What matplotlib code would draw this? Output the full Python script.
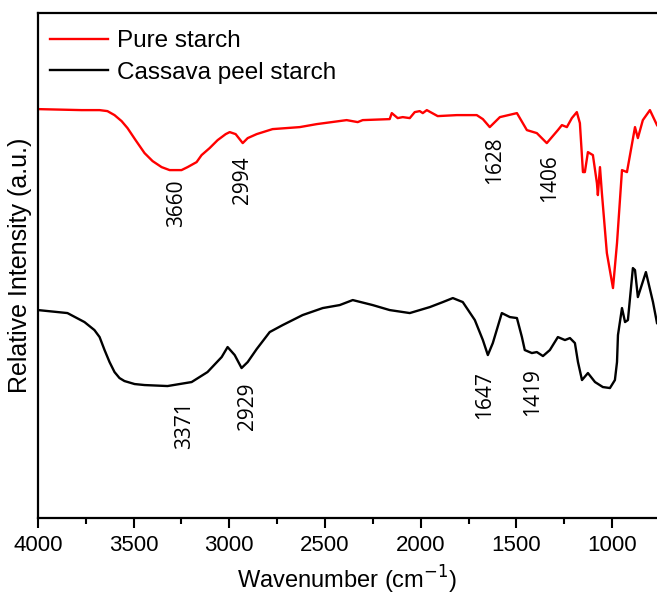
import matplotlib
matplotlib.use('Agg')
import matplotlib.pyplot as plt
from matplotlib.ticker import MultipleLocator

# Pure starch (red) - wavenumber (cm-1) vs relative intensity (a.u.)
pure_wn = [4000, 3773, 3678, 3637, 3600, 3563, 3532, 3490, 3443, 3401, 3354,
           3312, 3286, 3250, 3218, 3171, 3145, 3103, 3061, 3019,
           2998, 2967, 2930, 2904, 2857, 2774, 2632, 2543, 2387, 2329, 2303,
           2162, 2151, 2120, 2094, 2057, 2031, 2005, 1989, 1968, 1911, 1811,
           1707, 1675, 1639, 1586, 1497, 1445, 1393, 1341, 1283, 1262, 1236,
           1210, 1184, 1168, 1152, 1142, 1126, 1100, 1079, 1074, 1063, 1053,
           1027, 995, 974, 948, 922, 880, 865, 839, 802, 765]
pure_int = [409, 408, 408, 407, 403, 397, 390, 378, 365, 357, 351,
            348, 348, 348, 351, 356, 363, 370, 378, 384,
            386, 384, 375, 380, 384, 389, 391, 394, 398, 396, 398,
            399, 405, 400, 401, 400, 406, 407, 405, 408, 402, 403,
            403, 399, 391, 401, 405, 388, 385, 375, 388, 393, 391,
            400, 406, 395, 346, 346, 366, 363, 335, 323, 351, 325,
            265, 230, 275, 348, 346, 391, 380, 398, 408, 393]

# Cassava peel starch (black)
cassava_wn = [4000, 3846, 3757, 3705, 3678, 3652, 3626, 3600, 3574, 3548, 3495,
              3443, 3323, 3197, 3114,
              3040, 3009, 2972, 2936, 2904, 2857, 2789, 2721, 2617, 2512, 2423,
              2355, 2251, 2162, 2057, 1952, 1884, 1832, 1780, 1717, 1675, 1649,
              1623, 1576, 1534, 1497, 1471, 1456, 1419, 1393, 1361, 1325, 1283,
              1246, 1220, 1194, 1178, 1157, 1126, 1089, 1048, 1011, 985, 974,
              969, 948, 932, 917, 891, 880, 865, 823, 786, 765]
cassava_int = [208, 205, 196, 188, 181, 168, 156, 146, 140, 137, 134,
               133, 132, 136, 146,
               161, 171, 163, 150, 156, 169, 186, 193, 203, 210, 213,
               218, 213, 208, 205, 211, 216, 220, 216, 198, 178, 163,
               175, 205, 201, 200, 181, 168, 165, 166, 162, 168, 181,
               178, 180, 175, 156, 138, 145, 136, 131, 130, 138, 156,
               183, 210, 196, 198, 250, 248, 221, 246, 216, 195]

# peak labels: text, wavenumber, label height
pure_peaks = ['3660', '2994', '1628', '1406']
pure_peak_wn = [3276, 2930, 1612, 1325]
pure_peak_y = [315, 338, 358, 340]

cassava_peaks = ['3371', '2929', '1647', '1419']
cassava_peak_wn = [3234, 2904, 1665, 1414]
cassava_peak_y = [93, 112, 123, 126]

plt.rcParams['font.family'] = ['Liberation Sans', 'DejaVu Sans']

fig = plt.figure(figsize=(6.57, 5.97), dpi=100)
ax = fig.add_axes([0.0578, 0.1323, 0.9422, 0.8457])

ax.plot(pure_wn, pure_int, color='#ff0000', lw=1.7, label='Pure starch')
ax.plot(cassava_wn, cassava_int, color='black', lw=1.7, label='Cassava peel starch')

for txt, x, y in zip(pure_peaks, pure_peak_wn, pure_peak_y):
    ax.text(x, y, txt, rotation=90, ha='center', va='center', fontsize=15,
            family='Open Sans')
for txt, x, y in zip(cassava_peaks, cassava_peak_wn, cassava_peak_y):
    ax.text(x, y, txt, rotation=90, ha='center', va='center', fontsize=15,
            family='Open Sans')

ax.set_xlim(4000, 765)
ax.set_ylim(0, 505)
ax.xaxis.set_major_locator(MultipleLocator(500))
ax.xaxis.set_minor_locator(MultipleLocator(250))
ax.tick_params(axis='x', which='major', direction='out', length=7, width=1.5,
               labelsize=16, pad=5)
ax.tick_params(axis='x', which='minor', direction='out', length=4, width=1.5)
ax.set_yticks([])

for s in ['left', 'bottom', 'top']:
    ax.spines[s].set_linewidth(1.6)
ax.spines['right'].set_visible(False)

ax.set_xlabel('Wavenumber (cm$^{-1}$)', fontsize=17, labelpad=6)
ax.set_ylabel('Relative Intensity (a.u.)', fontsize=18, labelpad=4)

ax.legend(loc='upper left', frameon=False, fontsize=17.5, handlelength=2.4,
          handletextpad=0.35, borderaxespad=0.3, labelspacing=0.4,
          bbox_to_anchor=(-0.008, 1.0))

fig.savefig('out.png', dpi=100, facecolor='white')
